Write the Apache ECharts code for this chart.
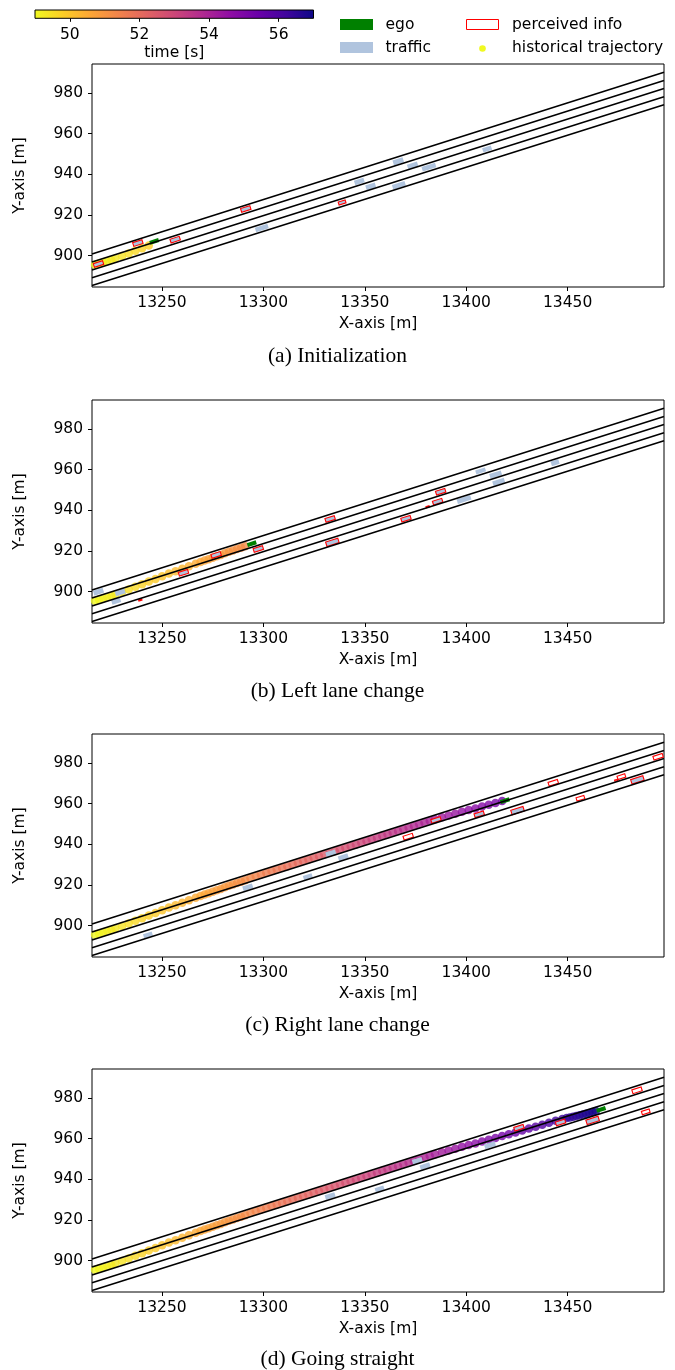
<!DOCTYPE html>
<html>
<head>
<meta charset="utf-8">
<script src="https://cdn.jsdelivr.net/npm/echarts@6/dist/echarts.min.js"></script>
<style>
html, body { margin: 0; padding: 0; background: #fff; }
#chart { width: 675px; height: 1370px; }
</style>
</head>
<body>
<div id="chart"></div>
<script>
// ---- road geometry: lane boundary lines (y at the left and right x limits) ----
const ROAD_X = [13215.5, 13497.5];
const laneYLeft = [900.8, 896.9, 893.0, 889.1, 885.3];
const laneYRight = [990.2, 986.2, 982.2, 978.2, 974.3];

// ---- axes ----
const X_RANGE = [13215.5, 13497.5];
const Y_RANGE = [884.6, 994.3];
const xTicks = [13250, 13300, 13350, 13400, 13450];
const yTicks = [900, 920, 940, 960, 980];
const TIME_RANGE = [49, 57];
const timeTicks = [50, 52, 54, 56];

// ---- ego historical trajectory: [x, y, time] ----
const trajectory = [
  [13211.0, 893.7, 48.82], [13213.0, 894.3, 48.88], [13215.0, 894.9, 48.94],
  [13217.0, 895.5, 49.00], [13219.0, 896.1, 49.06], [13221.0, 896.7, 49.12],
  [13223.0, 897.3, 49.18], [13225.0, 897.9, 49.24], [13227.0, 898.6, 49.30],
  [13230.3, 899.8, 49.40], [13233.6, 901.1, 49.50], [13236.9, 902.4, 49.60],
  [13240.2, 903.7, 49.70], [13243.5, 905.0, 49.80], [13246.8, 906.3, 49.90],
  [13250.1, 907.6, 50.00], [13253.4, 908.9, 50.10], [13256.7, 910.1, 50.20],
  [13260.0, 911.3, 50.30], [13263.3, 912.5, 50.40], [13266.6, 913.7, 50.50],
  [13269.0, 914.6, 50.57], [13271.0, 915.3, 50.63], [13273.0, 916.0, 50.69],
  [13275.0, 916.7, 50.75], [13277.0, 917.4, 50.81], [13279.0, 918.1, 50.87],
  [13281.0, 918.9, 50.93], [13283.0, 919.6, 50.99], [13285.0, 920.3, 51.05],
  [13287.0, 921.0, 51.11], [13289.0, 921.6, 51.17], [13291.0, 922.3, 51.23],
  [13293.6, 923.6, 51.33], [13296.2, 924.4, 51.41], [13298.8, 925.2, 51.49],
  [13301.4, 926.0, 51.57], [13304.0, 926.9, 51.65], [13306.6, 927.7, 51.73],
  [13309.2, 928.5, 51.80], [13311.8, 929.3, 51.88], [13314.4, 930.2, 51.96],
  [13317.0, 931.0, 52.04], [13319.6, 931.8, 52.12], [13322.2, 932.6, 52.20],
  [13324.8, 933.4, 52.28], [13327.4, 934.3, 52.36], [13330.0, 935.1, 52.44],
  [13332.6, 935.9, 52.52], [13335.2, 936.7, 52.59], [13337.8, 937.6, 52.67],
  [13340.4, 938.4, 52.75], [13343.0, 939.2, 52.83], [13345.6, 940.0, 52.91],
  [13348.2, 940.9, 52.99], [13350.8, 941.7, 53.07], [13353.4, 942.5, 53.15],
  [13356.0, 943.3, 53.23], [13358.6, 944.2, 53.31], [13361.2, 945.0, 53.38],
  [13363.8, 945.8, 53.46], [13366.4, 946.6, 53.54], [13369.0, 947.5, 53.62],
  [13371.6, 948.3, 53.70], [13374.2, 949.1, 53.78], [13376.8, 949.9, 53.86],
  [13379.4, 950.8, 53.94], [13382.0, 951.6, 54.02], [13384.6, 952.4, 54.10],
  [13388.0, 953.3, 54.20], [13391.3, 954.2, 54.31], [13394.6, 955.1, 54.41],
  [13397.9, 956.0, 54.52], [13401.2, 956.9, 54.62], [13404.5, 957.7, 54.73],
  [13407.8, 958.6, 54.84], [13411.1, 959.5, 54.94], [13414.4, 960.4, 55.05],
  [13417.7, 961.3, 55.15], [13421.0, 962.2, 55.26], [13424.3, 963.1, 55.39],
  [13427.6, 964.0, 55.51], [13430.9, 965.0, 55.64], [13434.2, 965.9, 55.76],
  [13437.5, 966.9, 55.89], [13440.8, 967.8, 56.01], [13444.1, 968.8, 56.14],
  [13447.4, 969.7, 56.26], [13449.5, 970.2, 56.34], [13451.1, 970.5, 56.40],
  [13452.7, 970.8, 56.46], [13454.3, 971.2, 56.52], [13455.9, 971.6, 56.58],
  [13457.5, 971.9, 56.64], [13459.1, 972.3, 56.70], [13460.7, 972.7, 56.76],
  [13462.3, 973.1, 56.82], [13463.9, 973.6, 56.88]
];

// ---- snapshots ----
const captions = ['(a) Initialization', '(b) Left lane change', '(c) Right lane change', '(d) Going straight'];
const snapshotTimes = [49.85, 51.3, 55.2, 57.0];
// ego centre per snapshot [x, y]
const egoPositions = [[13246.2, 907.0], [13294.3, 923.6], [13419.1, 961.5], [13466.5, 974.4]];
const EGO_DIM = [4.6, 2.0]; // length, width in metres

// traffic vehicles per snapshot: [x, y, length, width]
const trafficA = [
  [13218.7, 895.9, 4.8, 1.9], [13238.1, 906.2, 4.8, 1.9], [13256.5, 907.9, 4.8, 1.9],
  [13291.3, 923.0, 4.8, 1.9], [13299.2, 913.6, 6.5, 2.3], [13338.8, 926.2, 3.6, 1.5],
  [13347.3, 936.5, 4.9, 2.4], [13352.9, 934.1, 4.9, 2.4], [13366.5, 946.4, 5.2, 2.6],
  [13373.6, 944.3, 5.2, 2.6], [13381.6, 943.6, 7.0, 2.3], [13366.8, 934.6, 6.5, 2.4],
  [13410.3, 952.5, 4.5, 2.2]
];
const trafficB = [
  [13218.7, 900.0, 5.0, 2.5], [13229.4, 899.7, 5.0, 2.5], [13227.4, 895.4, 4.5, 2.3],
  [13260.6, 909.3, 4.8, 1.9], [13276.7, 918.1, 4.8, 1.9], [13297.5, 921.0, 4.8, 1.9],
  [13332.9, 935.8, 4.8, 1.9], [13334.0, 924.3, 6.3, 2.3], [13370.3, 935.9, 4.8, 1.9],
  [13387.4, 949.2, 4.8, 1.9], [13385.9, 944.3, 4.8, 1.9], [13407.1, 959.4, 5.0, 2.0],
  [13414.5, 957.6, 6.0, 2.4], [13416.0, 954.0, 6.0, 2.4], [13398.9, 945.4, 7.0, 2.4],
  [13443.8, 963.5, 4.0, 2.4]
];
const trafficC = [
  [13243.1, 895.4, 4.5, 2.2], [13292.3, 918.9, 5.0, 2.4], [13321.9, 924.1, 4.5, 2.2],
  [13333.2, 935.6, 5.0, 2.4], [13339.4, 933.6, 5.0, 2.6], [13385.1, 952.0, 4.8, 1.9],
  [13406.4, 954.8, 4.8, 1.9], [13425.3, 956.6, 6.3, 2.3], [13484.4, 971.7, 6.3, 2.3]
];
const trafficD = [
  [13332.9, 931.8, 5.0, 2.4], [13357.3, 935.3, 4.5, 2.2], [13375.9, 949.1, 5.0, 2.4],
  [13379.7, 946.5, 5.0, 2.4], [13411.7, 956.8, 5.5, 2.4], [13426.0, 965.4, 4.8, 1.9],
  [13446.5, 968.0, 4.8, 1.9], [13462.3, 969.0, 6.3, 2.3]
];

// perceived objects per snapshot: [x, y, length, width]
const perceivedA = [
  [13218.7, 895.9, 4.8, 1.9], [13238.1, 906.2, 4.8, 1.9], [13256.5, 907.9, 4.8, 1.9],
  [13291.3, 923.0, 4.8, 1.9], [13338.8, 926.2, 3.6, 1.5]
];
const perceivedB = [
  [13260.6, 909.3, 4.8, 1.9], [13276.7, 918.1, 4.8, 1.9], [13297.5, 921.0, 4.8, 1.9],
  [13332.9, 935.8, 4.8, 1.9], [13334.0, 924.3, 6.3, 2.3], [13370.3, 935.9, 4.8, 1.9],
  [13387.4, 949.2, 4.8, 1.9], [13385.9, 944.3, 4.8, 1.9], [13239.3, 895.9, 1.6, 0.6],
  [13381.0, 941.8, 1.6, 0.6]
];
const perceivedC = [
  [13371.4, 943.8, 4.8, 1.9], [13385.1, 952.0, 4.8, 1.9], [13406.4, 954.8, 4.8, 1.9],
  [13425.3, 956.6, 6.3, 2.3], [13442.9, 970.3, 4.8, 1.9], [13456.3, 962.7, 4.0, 1.7],
  [13476.5, 973.3, 4.0, 1.7], [13484.4, 971.7, 6.3, 2.3], [13494.6, 983.1, 4.8, 1.9],
  [13474.0, 971.6, 1.6, 0.6]
];
const perceivedD = [
  [13426.0, 965.4, 4.8, 1.9], [13446.5, 968.0, 4.8, 1.9], [13462.3, 969.0, 6.3, 2.3],
  [13484.2, 983.8, 4.8, 1.9], [13488.5, 973.2, 4.0, 1.7]
];
const trafficSets = [trafficA, trafficB, trafficC, trafficD];
const perceivedSets = [perceivedA, perceivedB, perceivedC, perceivedD];

// plasma colour map, reversed (early time = yellow, late time = dark blue)
const PLASMA_R = ['#f0f921', '#fcce25', '#fca636', '#f2844b', '#e16462', '#cc4778',
                  '#b12a90', '#8f0da4', '#6a00a8', '#41049d', '#0d0887'];

// ---- styling ----
const FONT = 'DejaVu Sans';
const TICK_FONT = 15.5;
const COLOR_EGO = '#008000';
const COLOR_TRAFFIC = '#b0c4de';
const COLOR_PERCEIVED = '#ff0000';

const GRID_LEFT = 92, GRID_W = 572, GRID_H = 223;
const gridTops = [64, 400, 734, 1069];

// vehicle heading follows the road direction
const HEADING = Math.atan2(laneYRight[0] - laneYLeft[0], ROAD_X[1] - ROAD_X[0]);

function boxRenderer(style) {
  return function (params, api) {
    const cx = api.value(0), cy = api.value(1);
    const L = api.value(2), W = api.value(3);
    const c = Math.cos(HEADING), s = Math.sin(HEADING);
    const pts = [[1, 1], [1, -1], [-1, -1], [-1, 1]].map(function (p) {
      const dx = p[0] * L / 2, dy = p[1] * W / 2;
      return api.coord([cx + dx * c - dy * s, cy + dx * s + dy * c]);
    });
    return { type: 'polygon', shape: { points: pts }, style: style };
  };
}

const plainNumber = function (v) { return String(v); };

const grids = [], xAxes = [], yAxes = [], series = [];
const scatterIdx = [];
const labelStyle = { fontFamily: FONT, fontSize: TICK_FONT, color: '#000' };

gridTops.forEach(function (top, i) {
  grids.push({ left: GRID_LEFT, top: top, width: GRID_W, height: GRID_H,
               show: true, borderColor: '#000', borderWidth: 1, backgroundColor: 'transparent' });
  xAxes.push({
    gridIndex: i, type: 'value', min: X_RANGE[0], max: X_RANGE[1],
    axisLine: { show: false }, splitLine: { show: false },
    axisTick: { show: true, customValues: xTicks, length: 4, lineStyle: { color: '#000', width: 1 } },
    axisLabel: Object.assign({ customValues: xTicks, margin: 8, formatter: plainNumber }, labelStyle),
    name: 'X-axis [m]', nameLocation: 'middle', nameGap: 29,
    nameTextStyle: labelStyle
  });
  yAxes.push({
    gridIndex: i, type: 'value', min: Y_RANGE[0], max: Y_RANGE[1],
    axisLine: { show: false }, splitLine: { show: false },
    axisTick: { show: true, customValues: yTicks, length: 4, lineStyle: { color: '#000', width: 1 } },
    axisLabel: Object.assign({ customValues: yTicks, margin: 9, formatter: plainNumber }, labelStyle),
    name: 'Y-axis [m]', nameLocation: 'middle', nameGap: 64,
    nameTextStyle: labelStyle
  });

  // historical trajectory up to the snapshot time
  scatterIdx.push(series.length);
  series.push({
    type: 'scatter', xAxisIndex: i, yAxisIndex: i, z: 2, symbolSize: 8.5,
    data: trajectory.filter(function (p) { return p[2] <= snapshotTimes[i]; }),
    silent: true
  });
  series.push({
    type: 'custom', name: 'traffic', xAxisIndex: i, yAxisIndex: i, z: 3, clip: true,
    data: trafficSets[i], silent: true,
    renderItem: boxRenderer({ fill: COLOR_TRAFFIC })
  });
  series.push({
    type: 'custom', name: 'perceived info', xAxisIndex: i, yAxisIndex: i, z: 4, clip: true,
    data: perceivedSets[i], silent: true,
    renderItem: boxRenderer({ fill: 'none', stroke: COLOR_PERCEIVED, lineWidth: 1.1 })
  });
  series.push({
    type: 'custom', name: 'ego', xAxisIndex: i, yAxisIndex: i, z: 5, clip: true,
    data: [[egoPositions[i][0], egoPositions[i][1], EGO_DIM[0], EGO_DIM[1]]], silent: true,
    renderItem: boxRenderer({ fill: COLOR_EGO })
  });
  laneYLeft.forEach(function (yl, k) {
    series.push({
      type: 'line', xAxisIndex: i, yAxisIndex: i, z: 6, symbol: 'none', silent: true,
      lineStyle: { color: '#000', width: 1.6 },
      data: [[ROAD_X[0], yl], [ROAD_X[1], laneYRight[k]]]
    });
  });
});

// ---- colour bar for time ----
const cbIndex = gridTops.length;
grids.push({ left: 35, top: 10, width: 278.5, height: 8.3, show: false });
xAxes.push({
  gridIndex: cbIndex, type: 'value', min: TIME_RANGE[0], max: TIME_RANGE[1],
  axisLine: { show: false }, splitLine: { show: false },
  axisTick: { show: true, customValues: timeTicks, length: 3.5, lineStyle: { color: '#000' } },
  axisLabel: Object.assign({ customValues: timeTicks, margin: 9, formatter: plainNumber }, labelStyle),
  name: 'time [s]', nameLocation: 'middle', nameGap: 27, nameTextStyle: labelStyle
});
yAxes.push({ gridIndex: cbIndex, type: 'value', min: 0, max: 1, show: false });
series.push({
  type: 'custom', xAxisIndex: cbIndex, yAxisIndex: cbIndex, silent: true, z: 3,
  data: [[TIME_RANGE[0], TIME_RANGE[1]]],
  renderItem: function (params, api) {
    const p0 = api.coord([api.value(0), 1]);
    const p1 = api.coord([api.value(1), 0]);
    const stops = PLASMA_R.map(function (c, k) { return { offset: k / (PLASMA_R.length - 1), color: c }; });
    return {
      type: 'rect',
      shape: { x: p0[0], y: p0[1], width: p1[0] - p0[0], height: p1[1] - p0[1] },
      style: { fill: new echarts.graphic.LinearGradient(0, 0, 1, 0, stops), stroke: '#000', lineWidth: 1 }
    };
  }
});

// ---- legend (two columns) and captions ----
const legendText = { fontFamily: FONT, fontSize: TICK_FONT, fill: '#000', verticalAlign: 'middle' };
const graphics = [
  { type: 'rect', left: 340, top: 19, shape: { width: 33, height: 11 }, style: { fill: COLOR_EGO } },
  { type: 'text', x: 385.5, y: 24.5, style: Object.assign({ text: 'ego' }, legendText) },
  { type: 'rect', left: 340, top: 42, shape: { width: 33, height: 11 }, style: { fill: COLOR_TRAFFIC } },
  { type: 'text', x: 385.5, y: 47.5, style: Object.assign({ text: 'traffic' }, legendText) },
  { type: 'rect', x: 466.5, y: 19.5, shape: { width: 32, height: 10 }, style: { fill: '#fff', stroke: COLOR_PERCEIVED, lineWidth: 1 } },
  { type: 'text', x: 512, y: 24.5, style: Object.assign({ text: 'perceived info' }, legendText) },
  { type: 'circle', x: 482.5, y: 48.5, shape: { r: 3.3 }, style: { fill: PLASMA_R[0] } },
  { type: 'text', x: 512, y: 47.5, style: Object.assign({ text: 'historical trajectory' }, legendText) }
];
const captionY = [356, 691, 1025, 1359];
captions.forEach(function (t, i) {
  graphics.push({ type: 'text', x: 337.5, y: captionY[i],
    style: { text: t, fontFamily: 'Liberation Serif', fontSize: 21.5, fill: '#000', align: 'center', verticalAlign: 'middle' } });
});

const chart = echarts.init(document.getElementById('chart'), null, { renderer: 'canvas' });
chart.setOption({
  animation: false,
  backgroundColor: '#fff',
  grid: grids,
  xAxis: xAxes,
  yAxis: yAxes,
  visualMap: {
    show: false, type: 'continuous', min: TIME_RANGE[0], max: TIME_RANGE[1],
    dimension: 2, seriesIndex: scatterIdx, inRange: { color: PLASMA_R }
  },
  series: series,
  graphic: graphics
});
</script>
</body>
</html>
